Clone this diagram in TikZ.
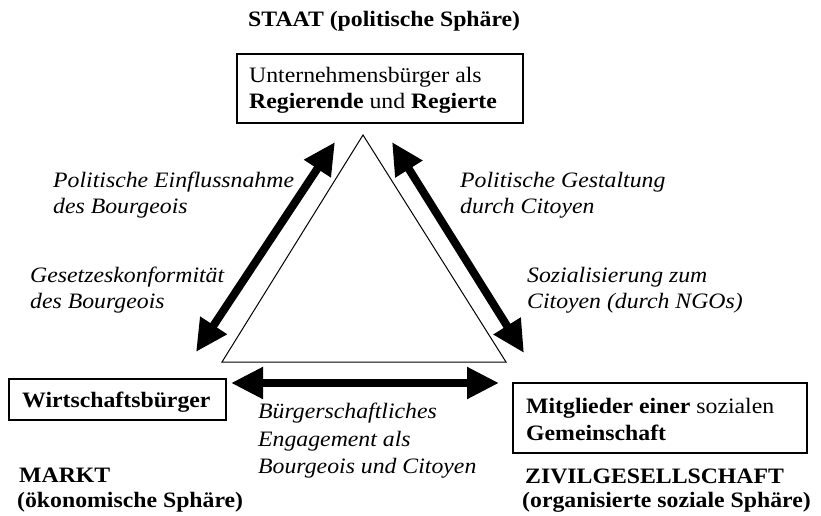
\documentclass[tikz,border=0pt]{standalone}
\usepackage{fontspec}
\setmainfont[FakeStretch=1.08]{Liberation Serif}
\usetikzlibrary{arrows.meta}
\begin{document}
\begin{tikzpicture}[x=1pt,y=-1pt,
  txt/.style={font=\fontsize{22}{26}\selectfont, inner sep=0pt, anchor=base west},
  lbl/.style={font=\fontsize{22}{26}\selectfont\itshape, inner sep=0pt, anchor=base west},
  hdr/.style={font=\fontsize{22}{26}\selectfont\bfseries, inner sep=0pt, anchor=base west},
  frame/.style={draw, line width=1.2pt},
  bigarrow/.style={line width=8pt, {Triangle[length=32pt,width=30pt]}-{Triangle[length=32pt,width=30pt]}}
]
\useasboundingbox (0,0) rectangle (821,516);
% heading
\node[hdr] (staat) at (248,27) {STAAT (politische Sphäre)};
% top box
\draw[frame] (237,54) rectangle (523,123);
\node[txt] (top1) at (249,83) {Unternehmensbürger als};
\node[txt] (top2) at (249,109) {\textbf{Regierende} und \textbf{Regierte}};
% triangle
\coordinate (apex) at (363,135);
\coordinate (bl) at (222,362);
\coordinate (br) at (506,362);
\draw[line width=1pt] (apex) -- (bl) -- (br) -- cycle;
% arrows
\coordinate (la1) at (335,142);
\coordinate (la2) at (196,352);
\coordinate (ra1) at (392,142);
\coordinate (ra2) at (524,353);
\coordinate (ba1) at (231,383);
\coordinate (ba2) at (499,383);
\draw[bigarrow] (la1) -- (la2);
\draw[bigarrow] (ra1) -- (ra2);
\draw[bigarrow] (ba1) -- (ba2);
% side labels
\node[lbl] (pe1) at (53,187) {Politische Einflussnahme};
\node[lbl] (pe2) at (53,213) {des Bourgeois};
\node[lbl] (gk1) at (30,282) {Gesetzeskonformität};
\node[lbl] (gk2) at (30,308) {des Bourgeois};
\node[lbl] (pg1) at (460,187) {Politische Gestaltung};
\node[lbl] (pg2) at (460,213) {durch Citoyen};
\node[lbl] (sz1) at (527,282) {Sozialisierung zum};
\node[lbl] (sz2) at (527,308) {Citoyen (durch NGOs)};
% bottom boxes
\draw[frame] (9,379) rectangle (226,420);
\node[hdr] (wtext) at (22,407) {Wirtschaftsbürger};
\draw[frame] (513,383) rectangle (807,453);
\node[txt] (m1) at (526,413) {\textbf{Mitglieder einer} sozialen};
\node[hdr] (m2) at (526,440) {Gemeinschaft};
% center text
\node[lbl] (b1) at (258,418) {Bürgerschaftliches};
\node[lbl] (b2) at (258,446) {Engagement als};
\node[lbl] (b3) at (258,473) {Bourgeois und Citoyen};
% sphere labels
\node[hdr] (markt) at (19,482) {MARKT};
\node[hdr] (oek) at (17,507) {(ökonomische Sphäre)};
\node[hdr] (zivil) at (525,483) {ZIVILGESELLSCHAFT};
\node[hdr] (org) at (522,507) {(organisierte soziale Sphäre)};
\end{tikzpicture}
\end{document}
